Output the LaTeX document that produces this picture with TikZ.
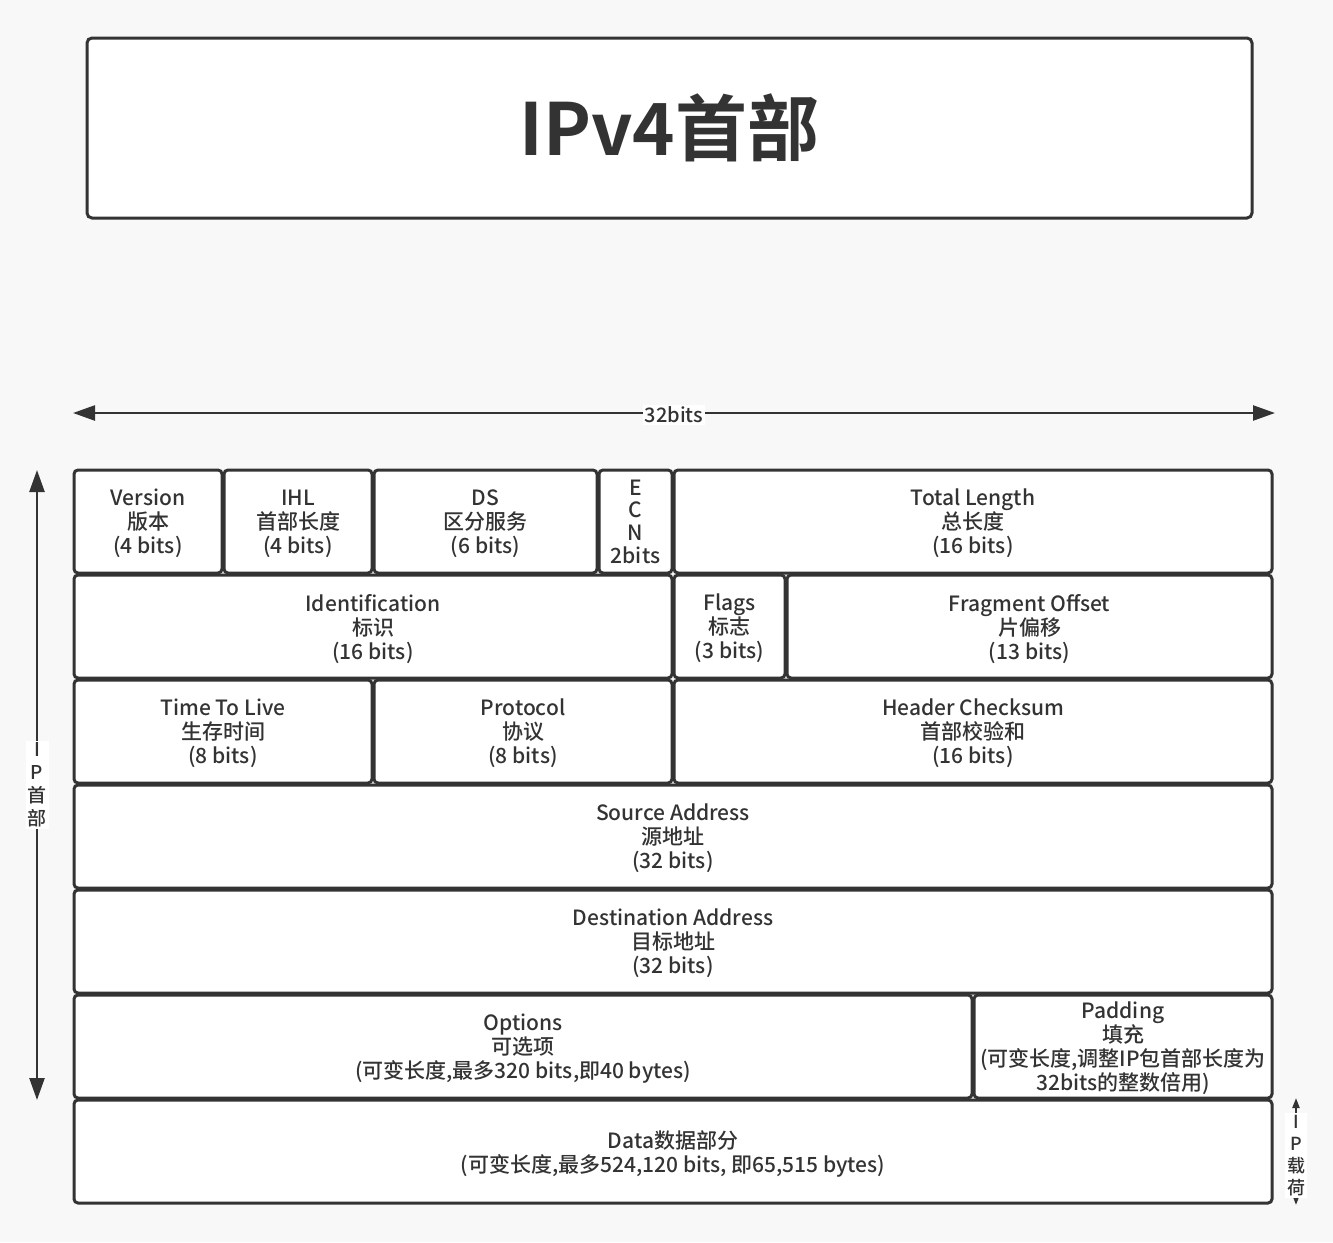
\documentclass[tikz,border=0pt]{standalone}
\usepackage{fontspec}
\setmainfont{Noto Sans CJK SC}[UprightFont = * Medium, BoldFont = * Bold]
\usetikzlibrary{arrows.meta}
\definecolor{ink}{HTML}{333333}
\definecolor{paper}{HTML}{F8F8F8}

\begin{document}
\begin{tikzpicture}[
    x = 0.5pt, y = -0.5pt,
    field/.style = {draw = ink, line width = 1.5pt, fill = white,
        rounded corners = 2pt, minimum height = 51.5pt, inner sep = 0pt,
        align = center, text = ink, text depth = -5pt,
        font = \fontsize{10.5pt}{12pt}\selectfont},
    widtharrow/.style = {draw = ink, line width = 1.2pt,
        {Triangle[length = 11pt, width = 7.5pt]}-{Triangle[length = 11pt, width = 7.5pt]}},
    spanlabel/.style = {fill = white, text = ink, inner sep = 1pt,
        align = center, font = \fontsize{9.5pt}{11.5pt}\selectfont}]

% page
\fill[paper] (0,0) rectangle (1333,1242);
\useasboundingbox (0,0) rectangle (1333,1242);

% title
\node[draw = ink, line width = 1.5pt, fill = white, rounded corners = 2.5pt,
      minimum width = 582.5pt, minimum height = 90pt, text = ink,
      font = \fontsize{36pt}{40pt}\selectfont\bfseries] (title) at (669.5,128)
      {\raisebox{-4.5pt}{IPv4首部}};

% 32 bit width
\coordinate (wl) at (73,413);
\coordinate (wr) at (1275,413);
\draw[widtharrow] (wl) -- node[spanlabel, font = \fontsize{10pt}{12pt}\selectfont, yshift = -1pt] (wlab) {32bits} (wr);

% row 1
\node[field, minimum width = 74pt]    (ver)  at (148,521.5)   {Version\\版本\\(4 bits)};
\node[field, minimum width = 74pt]    (ihl)  at (298,521.5)   {IHL\\首部长度\\(4 bits)};
\node[field, minimum width = 111.5pt] (ds)   at (485.5,521.5) {DS\\区分服务\\(6 bits)};
\node[field, minimum width = 36.5pt, font = \fontsize{10.5pt}{11.3pt}\selectfont]
                                      (ecn)  at (635.5,521.5) {E\\C\\N\\2bits};
\node[field, minimum width = 299pt]   (tlen) at (973,521.5)   {Total Length\\总长度\\(16 bits)};

% row 2
\node[field, minimum width = 299pt]   (ident) at (373,626.5)    {Identification\\标识\\(16 bits)};
\node[field, minimum width = 55.5pt]  (flags) at (729.5,626.5)  {Flags\\标志\\(3 bits)};
\node[field, minimum width = 242.5pt] (frag)  at (1029.5,626.5) {Fragment Offset\\片偏移\\(13 bits)};

% row 3
\node[field, minimum width = 149pt] (ttl)   at (223,731.5) {Time To Live\\生存时间\\(8 bits)};
\node[field, minimum width = 149pt] (proto) at (523,731.5) {Protocol\\协议\\(8 bits)};
\node[field, minimum width = 299pt] (csum)  at (973,731.5) {Header Checksum\\首部校验和\\(16 bits)};

% rows 4 and 5
\node[field, minimum width = 599pt] (src) at (673,836.5) {Source Address\\源地址\\(32 bits)};
\node[field, minimum width = 599pt] (dst) at (673,941.5) {Destination Address\\目标地址\\(32 bits)};

% row 6
\node[field, minimum width = 449pt] (opt) at (523,1046.5)
    {Options\\可选项\\(可变长度,最多320 bits,即40 bytes)};
\node[field, minimum width = 149pt] (pad) at (1123,1046.5)
    {Padding\\填充\\(可变长度,调整IP包首部长度为\\32bits的整数倍用)};

% payload
\node[field, minimum width = 599pt] (data) at (673,1151.5)
    {Data数据部分\\(可变长度,最多524,120 bits, 即65,515 bytes)};

% header span
\coordinate (ht) at (37,470);
\coordinate (hb) at (37,1100);
\draw[widtharrow] (ht) -- node[spanlabel] (hlab) {I\\P\\首\\部} (hb);

% payload span
\coordinate (pt) at (1296,1098);
\coordinate (pb) at (1296,1205);
\draw[draw = ink, line width = 1pt,
      {Triangle[length = 5pt, width = 3.5pt]}-{Triangle[length = 5pt, width = 3.5pt]}]
    (pt) -- node[spanlabel, font = \fontsize{9pt}{11pt}\selectfont, yshift = -2pt] (plab) {I\\P\\载\\荷} (pb);
\end{tikzpicture}
\end{document}
